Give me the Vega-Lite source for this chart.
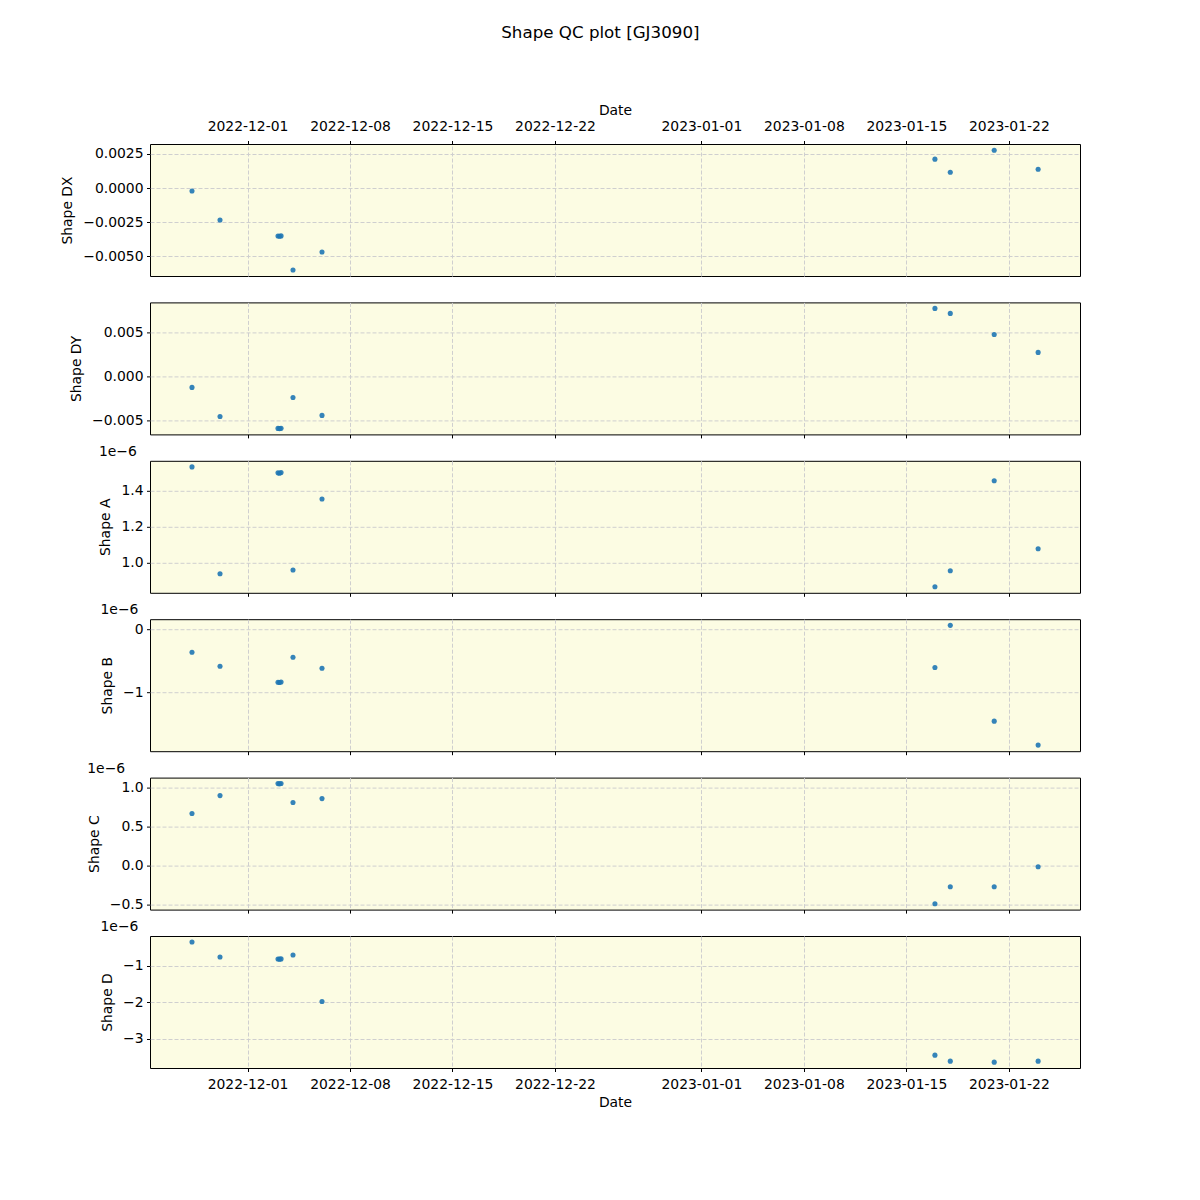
{
  "$schema": "https://vega.github.io/schema/vega-lite/v6.json",
  "padding": {"left": 60, "top": 24, "right": 10, "bottom": 10},
  "title": {"text": "Shape QC plot [GJ3090]", "fontSize": 16.7, "fontWeight": "normal", "anchor": "middle", "offset": 61, "dx": 30, "color": "black"},
  "config": {
    "font": "DejaVu Sans",
    "view": {"fill": "#fcfce3", "stroke": "black", "strokeWidth": 1},
    "axis": {
      "domain": false, "tickColor": "black", "tickSize": 3.5, "tickWidth": 1,
      "labelPadding": 3.5, "labelFontSize": 13.9, "labelColor": "black",
      "titleFontSize": 13.9, "titleFontWeight": "normal", "titleColor": "black",
      "titlePadding": 6, "grid": true, "gridColor": "#cfcfcf", "gridDash": [4, 2], "gridWidth": 1,
      "labelFlush": false, "labelOverlap": false
    },
    "axisLeft": {"titlePadding": 8},
    "title": {"font": "DejaVu Sans"},
    "concat": {"spacing": 26.4}
  },
  "data": {"values": [
    {"date": "2022-11-27T05:00:00", "dx": -0.00022, "dy": -0.00125, "a": 1.533e-6, "b": -0.365e-6, "c": 0.667e-6, "d": -0.342e-6},
    {"date": "2022-11-29T02:56:00", "dx": -0.00235, "dy": -0.00455, "a": 0.939e-6, "b": -0.587e-6, "c": 0.897e-6, "d": -0.753e-6},
    {"date": "2022-12-03T02:00:00", "dx": -0.00353, "dy": -0.00591, "a": 1.500e-6, "b": -0.841e-6, "c": 1.051e-6, "d": -0.808e-6},
    {"date": "2022-12-03T04:30:00", "dx": -0.00355, "dy": -0.00593, "a": 1.498e-6, "b": -0.845e-6, "c": 1.048e-6, "d": -0.812e-6},
    {"date": "2022-12-03T07:00:00", "dx": -0.00352, "dy": -0.00590, "a": 1.502e-6, "b": -0.838e-6, "c": 1.053e-6, "d": -0.805e-6},
    {"date": "2022-12-04T02:34:00", "dx": -0.00603, "dy": -0.00239, "a": 0.960e-6, "b": -0.444e-6, "c": 0.808e-6, "d": -0.699e-6},
    {"date": "2022-12-06T02:07:00", "dx": -0.00471, "dy": -0.00443, "a": 1.355e-6, "b": -0.619e-6, "c": 0.859e-6, "d": -1.973e-6},
    {"date": "2023-01-16T22:50:00", "dx": 0.00212, "dy": 0.00773, "a": 0.867e-6, "b": -0.607e-6, "c": -0.489e-6, "d": -3.443e-6},
    {"date": "2023-01-18T00:00:00", "dx": 0.00116, "dy": 0.00716, "a": 0.956e-6, "b": 0.061e-6, "c": -0.271e-6, "d": -3.607e-6},
    {"date": "2023-01-21T00:00:00", "dx": 0.00278, "dy": 0.00477, "a": 1.456e-6, "b": -1.460e-6, "c": -0.271e-6, "d": -3.635e-6},
    {"date": "2023-01-24T00:00:00", "dx": 0.00138, "dy": 0.00273, "a": 1.078e-6, "b": -1.840e-6, "c": -0.015e-6, "d": -3.607e-6}
  ]},
  "bounds": "flush",
  "vconcat": [
    {
      "width": 930, "height": 132,
      "mark": {"type": "circle", "size": 26, "color": "#1f77b4", "opacity": 0.9},
      "encoding": {
        "x": {"field": "date", "type": "temporal",
          "scale": {"domain": [{"year": 2022, "month": 11, "date": 24, "hours": 8, "minutes": 10}, {"year": 2023, "month": 1, "date": 26, "hours": 20, "minutes": 38}]},
          "axis": {"orient": "top", "title": "Date", "format": "%Y-%m-%d", "labelPadding": 7.5, "titlePadding": 2,
            "values": [{"year": 2022, "month": 12, "date": 1}, {"year": 2022, "month": 12, "date": 8}, {"year": 2022, "month": 12, "date": 15}, {"year": 2022, "month": 12, "date": 22}, {"year": 2023, "month": 1, "date": 1}, {"year": 2023, "month": 1, "date": 8}, {"year": 2023, "month": 1, "date": 15}, {"year": 2023, "month": 1, "date": 22}]}},
        "y": {"field": "dx", "type": "quantitative",
          "scale": {"domain": [-0.00647, 0.003235], "nice": false, "zero": false},
          "axis": {"title": "Shape DX", "values": [-0.005, -0.0025, 0, 0.0025], "format": ".4f"}}
      }
    },
    {
      "width": 930, "height": 132,
      "mark": {"type": "circle", "size": 26, "color": "#1f77b4", "opacity": 0.9},
      "encoding": {
        "x": {"field": "date", "type": "temporal",
          "scale": {"domain": [{"year": 2022, "month": 11, "date": 24, "hours": 8, "minutes": 10}, {"year": 2023, "month": 1, "date": 26, "hours": 20, "minutes": 38}]},
          "axis": {"orient": "bottom", "title": null, "labels": false,
            "values": [{"year": 2022, "month": 12, "date": 1}, {"year": 2022, "month": 12, "date": 8}, {"year": 2022, "month": 12, "date": 15}, {"year": 2022, "month": 12, "date": 22}, {"year": 2023, "month": 1, "date": 1}, {"year": 2023, "month": 1, "date": 8}, {"year": 2023, "month": 1, "date": 15}, {"year": 2023, "month": 1, "date": 22}]}},
        "y": {"field": "dy", "type": "quantitative",
          "scale": {"domain": [-0.00659, 0.00841], "nice": false, "zero": false},
          "axis": {"title": "Shape DY", "values": [-0.005, 0, 0.005], "format": ".3f"}}
      }
    },
    {
      "width": 930, "height": 132,
      "title": {"text": "1e−6", "anchor": "start", "fontSize": 13.9, "fontWeight": "normal", "offset": 2, "color": "black"},
      "mark": {"type": "circle", "size": 26, "color": "#1f77b4", "opacity": 0.9},
      "encoding": {
        "x": {"field": "date", "type": "temporal",
          "scale": {"domain": [{"year": 2022, "month": 11, "date": 24, "hours": 8, "minutes": 10}, {"year": 2023, "month": 1, "date": 26, "hours": 20, "minutes": 38}]},
          "axis": {"orient": "bottom", "title": null, "labels": false,
            "values": [{"year": 2022, "month": 12, "date": 1}, {"year": 2022, "month": 12, "date": 8}, {"year": 2022, "month": 12, "date": 15}, {"year": 2022, "month": 12, "date": 22}, {"year": 2023, "month": 1, "date": 1}, {"year": 2023, "month": 1, "date": 8}, {"year": 2023, "month": 1, "date": 15}, {"year": 2023, "month": 1, "date": 22}]}},
        "y": {"field": "a", "type": "quantitative",
          "scale": {"domain": [0.833e-6, 1.567e-6], "nice": false, "zero": false},
          "axis": {"title": "Shape A", "values": [1.0e-6, 1.2e-6, 1.4e-6], "labelExpr": "format(datum.value*1e6, '.1f')"}}
      }
    },
    {
      "width": 930, "height": 132,
      "title": {"text": "1e−6", "anchor": "start", "fontSize": 13.9, "fontWeight": "normal", "offset": 2, "color": "black"},
      "mark": {"type": "circle", "size": 26, "color": "#1f77b4", "opacity": 0.9},
      "encoding": {
        "x": {"field": "date", "type": "temporal",
          "scale": {"domain": [{"year": 2022, "month": 11, "date": 24, "hours": 8, "minutes": 10}, {"year": 2023, "month": 1, "date": 26, "hours": 20, "minutes": 38}]},
          "axis": {"orient": "bottom", "title": null, "labels": false,
            "values": [{"year": 2022, "month": 12, "date": 1}, {"year": 2022, "month": 12, "date": 8}, {"year": 2022, "month": 12, "date": 15}, {"year": 2022, "month": 12, "date": 22}, {"year": 2023, "month": 1, "date": 1}, {"year": 2023, "month": 1, "date": 8}, {"year": 2023, "month": 1, "date": 15}, {"year": 2023, "month": 1, "date": 22}]}},
        "y": {"field": "b", "type": "quantitative",
          "scale": {"domain": [-1.937e-6, 0.159e-6], "nice": false, "zero": false},
          "axis": {"title": "Shape B", "values": [-1e-6, 0], "labelExpr": "format(datum.value*1e6, '.0f')"}}
      }
    },
    {
      "width": 930, "height": 132,
      "title": {"text": "1e−6", "anchor": "start", "fontSize": 13.9, "fontWeight": "normal", "offset": 2, "color": "black"},
      "mark": {"type": "circle", "size": 26, "color": "#1f77b4", "opacity": 0.9},
      "encoding": {
        "x": {"field": "date", "type": "temporal",
          "scale": {"domain": [{"year": 2022, "month": 11, "date": 24, "hours": 8, "minutes": 10}, {"year": 2023, "month": 1, "date": 26, "hours": 20, "minutes": 38}]},
          "axis": {"orient": "bottom", "title": null, "labels": false,
            "values": [{"year": 2022, "month": 12, "date": 1}, {"year": 2022, "month": 12, "date": 8}, {"year": 2022, "month": 12, "date": 15}, {"year": 2022, "month": 12, "date": 22}, {"year": 2023, "month": 1, "date": 1}, {"year": 2023, "month": 1, "date": 8}, {"year": 2023, "month": 1, "date": 15}, {"year": 2023, "month": 1, "date": 22}]}},
        "y": {"field": "c", "type": "quantitative",
          "scale": {"domain": [-0.564e-6, 1.128e-6], "nice": false, "zero": false},
          "axis": {"title": "Shape C", "values": [-0.5e-6, 0, 0.5e-6, 1e-6], "labelExpr": "format(datum.value*1e6, '.1f')"}}
      }
    },
    {
      "width": 930, "height": 132,
      "title": {"text": "1e−6", "anchor": "start", "fontSize": 13.9, "fontWeight": "normal", "offset": 2, "color": "black"},
      "mark": {"type": "circle", "size": 26, "color": "#1f77b4", "opacity": 0.9},
      "encoding": {
        "x": {"field": "date", "type": "temporal",
          "scale": {"domain": [{"year": 2022, "month": 11, "date": 24, "hours": 8, "minutes": 10}, {"year": 2023, "month": 1, "date": 26, "hours": 20, "minutes": 38}]},
          "axis": {"orient": "bottom", "title": "Date", "format": "%Y-%m-%d", "labelPadding": 5.5, "titlePadding": 5,
            "values": [{"year": 2022, "month": 12, "date": 1}, {"year": 2022, "month": 12, "date": 8}, {"year": 2022, "month": 12, "date": 15}, {"year": 2022, "month": 12, "date": 22}, {"year": 2023, "month": 1, "date": 1}, {"year": 2023, "month": 1, "date": 8}, {"year": 2023, "month": 1, "date": 15}, {"year": 2023, "month": 1, "date": 22}]}},
        "y": {"field": "d", "type": "quantitative",
          "scale": {"domain": [-3.795e-6, -0.178e-6], "nice": false, "zero": false},
          "axis": {"title": "Shape D", "values": [-3e-6, -2e-6, -1e-6], "labelExpr": "format(datum.value*1e6, '.0f')"}}
      }
    }
  ]
}
